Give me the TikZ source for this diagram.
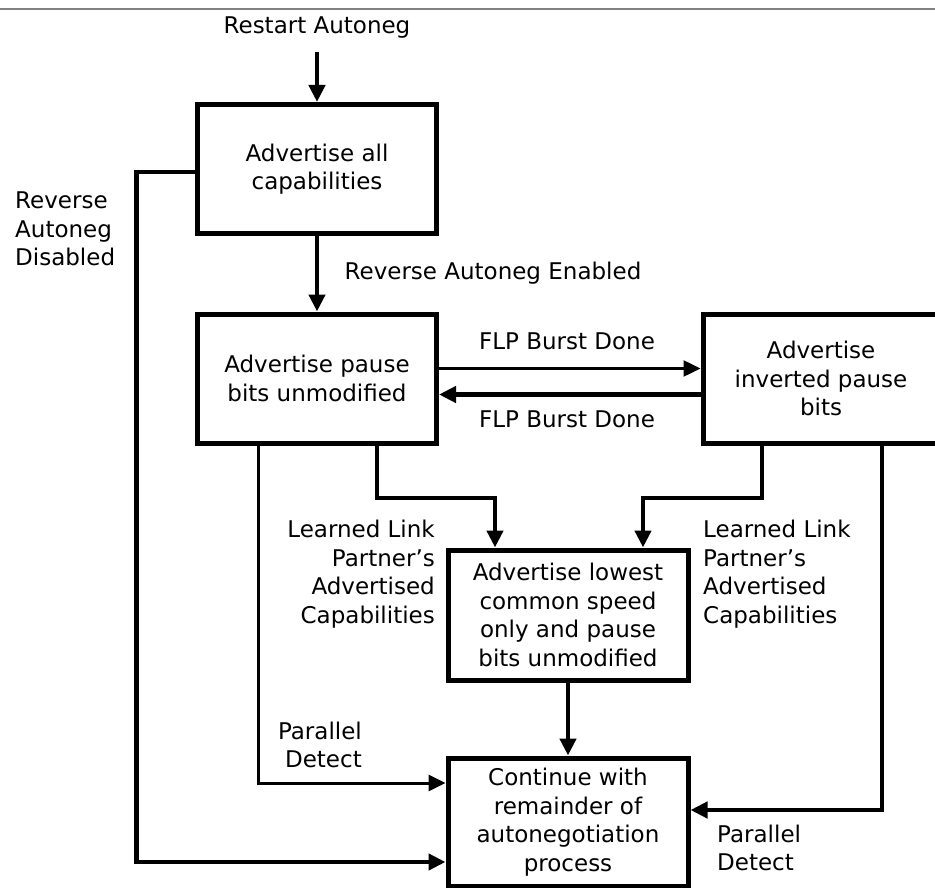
\documentclass[tikz,border=0pt]{standalone}
\usepackage{fontspec}
\setmainfont{DejaVu Sans}
\usetikzlibrary{arrows.meta}

\begin{document}
\begin{tikzpicture}[x=1pt, y=-1pt,
    font=\fontsize{23}{28.5}\selectfont,
    box/.style={draw, line width=5pt, minimum width=239pt,
      minimum height=129pt, align=center, inner sep=0pt},
    conn/.style={line width=4.5pt, -{Triangle[length=17pt,width=16pt]}},
    thinconn/.style={conn, line width=2.5pt},
    lbl/.style={inner sep=0pt}]
  \useasboundingbox (0,0) rectangle (935,888);
  \draw[gray, line width=2pt] (0,9) -- (935,9);

  % states
  \node[box] (adall) at (317,169) {Advertise all\\capabilities};
  \node[box] (adpause) at (317,378.5) {Advertise pause\\bits unmodified};
  \node[box, minimum width=236pt] (adinv) at (821,378.5)
    {Advertise\\inverted pause\\bits};
  \node[box, minimum width=240pt, minimum height=130pt] (adlow) at (568,615)
    {Advertise lowest\\common speed\\only and pause\\bits unmodified};
  \node[box, minimum width=240pt, minimum height=128pt] (cont) at (568,822)
    {Continue with\\remainder of\\autonegotiation\\process};

  % labels
  \node[lbl] (restart) at (317,28) {Restart Autoneg};
  \node[lbl, align=left, anchor=west] (revdis) at (15,229)
    {Reverse\\Autoneg\\Disabled};
  \node[lbl] (reven) at (493,273) {Reverse Autoneg Enabled};
  \node[lbl] (flpa) at (567,341) {FLP Burst Done};
  \node[lbl] (flpb) at (567,419) {FLP Burst Done};
  \node[lbl, align=right, anchor=east] (learnl) at (435,574)
    {Learned Link\\Partner's\\Advertised\\Capabilities};
  \node[lbl, align=left, anchor=west] (learnr) at (703,574)
    {Learned Link\\Partner's\\Advertised\\Capabilities};
  \node[lbl, align=right, anchor=east] (pdl) at (362,745) {Parallel\\Detect};
  \node[lbl, align=left, anchor=west] (pdr) at (717,848) {Parallel\\Detect};

  % transitions
  \draw[conn] ([yshift=-13pt]restart.south) -- (adall.north);
  \draw[conn] (adall.south) -- (adpause.north);
  \draw[thinconn] ([yshift=10pt]adpause.east) -- ([yshift=10pt]adinv.west);
  \draw[conn] ([yshift=-16pt]adinv.west) -- ([yshift=-16pt]adpause.east);
  \draw[conn] ([xshift=60pt]adpause.south) -- ++(0,52.5)
    -| ([xshift=-73pt]adlow.north);
  \draw[conn] ([xshift=-59pt]adinv.south) -- ++(0,52.5)
    -| ([xshift=75pt]adlow.north);
  \draw[conn] (adlow.south) -- (cont.north);
  \draw[thinconn, line width=3pt] ([xshift=-59pt]adpause.south)
    |- ([yshift=39pt]cont.west);
  \draw[conn] ([xshift=61pt]adinv.south) |- ([yshift=12pt]cont.east);
  \draw[conn] ([yshift=-3pt]adall.west) -- ++(-58.5,0)
    |- ([yshift=-40pt]cont.west);
\end{tikzpicture}
\end{document}
